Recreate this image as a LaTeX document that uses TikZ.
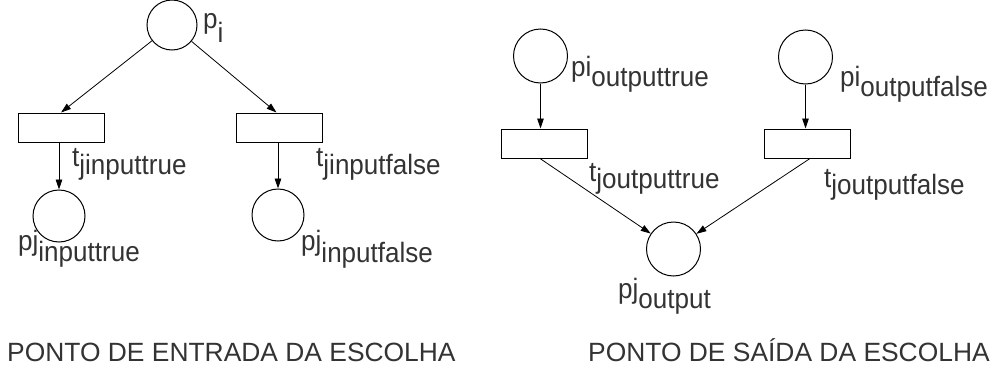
\documentclass[tikz,border=0pt]{standalone}
\usepackage{fontspec}
\setmainfont{Liberation Sans}
\usetikzlibrary{arrows.meta}
\definecolor{txt}{HTML}{333333}
\newcommand{\lbl}[3]{\scalebox{0.93}[1]{\fontsize{28}{30}\selectfont #1\raisebox{-#3pt}{#2}}}
\begin{document}
\begin{tikzpicture}[x=1pt,y=-1pt,
 pl/.style={circle,draw,line width=1pt,inner sep=0,minimum size=#1},
 tr/.style={rectangle,draw,line width=1pt,inner sep=0,minimum width=86pt,minimum height=29pt},
 arc/.style={-{Triangle[length=10pt,width=6.5pt]},line width=0.8pt},
 lab/.style={anchor=base west,inner sep=0,text=txt},
 captxt/.style={anchor=base west,inner sep=0,text=txt,font=\fontsize{26.4}{30}\selectfont}]
\useasboundingbox (0,0) rectangle (996,372);
% left net
\node[pl=50pt] (pi) at (172,25) {};
\node[tr] (t1) at (61,127.5) {};
\node[tr] (t2) at (279.5,127.5) {};
\node[pl=52pt] (c1) at (59,216) {};
\node[pl=52pt] (c2) at (278,215) {};
% right net
\node[pl=54pt] (pa) at (540.5,56) {};
\node[pl=54pt] (pb) at (805.5,57) {};
\node[tr] (ta) at (544.5,143.5) {};
\node[tr] (tb) at (807.5,143.5) {};
\node[pl=54pt] (po) at (673.5,249) {};
% arcs
\draw[arc] (pi) -- (t1.north);
\draw[arc] (pi) -- ([xshift=-3pt]t2.north);
\draw[arc] (t1.south -| c1.north) -- (c1.north);
\draw[arc] (t2.south -| c2.north) -- (c2.north);
\draw[arc] (pa.south) -- (pa.south |- ta.north);
\draw[arc] (pb.south) -- (pb.south |- tb.north);
\draw[arc] ([xshift=-4.5pt]ta.south) -- (po);
\draw[arc] ([xshift=2.5pt]tb.south) -- (po);
% labels
\node[lab] (lpi) at (203,28) {\lbl{p}{i}{14}};
\node[lab] (lt1) at (72,166) {\lbl{t}{jinputtrue}{8}};
\node[lab] (lt2) at (316,166) {\lbl{t}{jinputfalse}{8}};
\node[lab] (lc1) at (18,250) {\lbl{pj}{inputtrue}{11}};
\node[lab] (lc2) at (301,250) {\lbl{pj}{inputfalse}{12}};
\node[lab] (lpa) at (571,76) {\lbl{pi}{outputtrue}{10}};
\node[lab] (lpb) at (840,86) {\lbl{pi}{outputfalse}{10}};
\node[lab] (lta) at (589,181) {\lbl{t}{joutputtrue}{7}};
\node[lab] (ltb) at (824,187) {\lbl{t}{joutputfalse}{7}};
\node[lab] (lpo) at (618,298) {\lbl{pj}{output}{10}};
\node[captxt] (capl) at (7,361) {PONTO DE ENTRADA DA ESCOLHA};
\node[captxt] (capr) at (588,361) {PONTO DE SAÍDA DA ESCOLHA};
\end{tikzpicture}
\end{document}
